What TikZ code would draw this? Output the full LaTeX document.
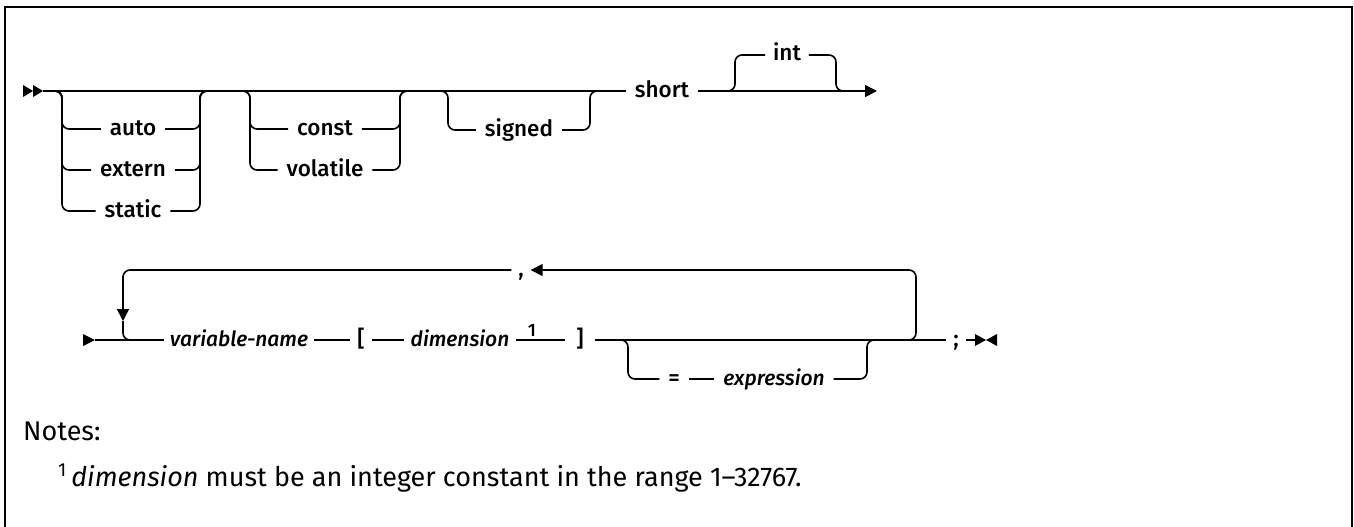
\documentclass[tikz,border=0pt]{standalone}
\usepackage{fontspec}
\setmainfont{Fira Sans}[Numbers=Lining]
\newfontfamily\labfont{Fira Sans Medium}[Numbers=Lining]
\usetikzlibrary{arrows.meta}
\begin{document}
\begin{tikzpicture}[x=1pt,y=-1pt,
  ln/.style={line width=1.6pt},
  rr/.style={line width=1.6pt, rounded corners=7pt},
  tip/.style={-{Triangle[length=12pt,width=12pt]}},
  lab/.style={font=\labfont\fontsize{22.5}{26}\selectfont, inner xsep=9pt, inner ysep=0pt,
    text height=16pt, text depth=4pt, outer sep=0pt, anchor=center},
  ilab/.style={lab, font=\labfont\itshape\fontsize{21}{25}\selectfont},
  sym/.style={lab, inner xsep=7pt},
  supnum/.style={font=\labfont\fontsize{18}{20}\selectfont, inner sep=0pt, anchor=base},
  blob/.style={fill=black, draw=none},
  note/.style={font=\fontsize{27}{32}\selectfont, inner sep=0pt, anchor=base west}
]
\useasboundingbox (0,0) rectangle (1354,527);
% frame
\draw[line width=2pt] (5,527) -- (5,7) -- (1352,7) -- (1352,527);

% ---------- row 1 ----------
\coordinate (s1) at (43,91);
\coordinate (e1) at (877,91);
\fill[blob] (23,85) -- (33,91) -- (23,97) -- cycle;
\fill[blob] (33,85) -- (43,91) -- (33,97) -- cycle;

\node[lab] (auto)   at (133,129) {auto};
\node[lab] (extern) at (133,170) {extern};
\node[lab] (static) at (133,211) {static};
\node[lab] (const)  at (325,129) {const};
\node[lab] (volat)  at (325,170) {volatile};
\node[lab] (signed) at (519,130) {signed};
\node[lab] (short)  at (662,91)  {short};
\node[lab, inner xsep=8pt] (int) at (787,55) {int};

\draw[ln] (s1) -- (short.west);
\draw[ln,tip] (short.east) -- (e1);

% group 1
\foreach \n in {auto,extern,static}{
  \draw[rr] (48,91) -| (62,0 |- \n.west) -- (\n.west);
  \draw[rr] (\n.east) -| (200,91) -- (214,91);
}
% group 2
\foreach \n in {const,volat}{
  \draw[rr] (236,91) -| (250,0 |- \n.west) -- (\n.west);
  \draw[rr] (\n.east) -| (400,91) -- (414,91);
}
% group 3
\draw[rr] (434,91) -| (448,130) -- (signed.west);
\draw[rr] (signed.east) -| (590,91) -- (604,91);
% int
\draw[rr] (721,91) -| (735,55) -- (int.west);
\draw[rr] (int.east) -| (836,91) -- (850,91);

% ---------- row 2 ----------
\coordinate (s2) at (95,340);
\coordinate (e2) at (975,340);
\fill[blob] (83,334) -- (95,340) -- (83,346) -- cycle;
\fill[blob] (975,334) -- (986,340) -- (975,346) -- cycle;
\fill[blob] (997,334) -- (986,340) -- (997,346) -- cycle;

\node[ilab, inner xsep=6pt] (vn)  at (239,340) {variable-name};
\node[sym] (lb)   at (361,340) {[};
\node[ilab, inner xsep=7pt] (dim) at (460,340) {dimension};
\node[supnum] (one) at (532,336) {1};
\node[sym, inner xsep=11pt] (rb)   at (580,340) {]};
\node[sym, inner xsep=9pt] (eq)   at (674,379) {=};
\node[ilab, inner xsep=9pt] (expr) at (774,379) {expression};
\node[sym, inner xsep=7pt] (semi) at (956,340) {;};
\node[sym, inner xsep=7pt] (comma) at (521,270) {,};

\draw[ln] (s2) -- (vn.west);
\draw[ln] (vn.east) -- (lb.west);
\draw[ln] (lb.east) -- (dim.west);
\draw[ln] (dim.east) -- (rb.west);
\draw[ln] (rb.east) -- (semi.west);
\draw[ln] (semi.east) -- (e2);

% optional = expression
\draw[rr] (614,340) -| (628,379) -- (eq.west);
\draw[ln] (eq.east) -- (expr.west);
\draw[rr] (expr.east) -| (867,340) -- (881,340);

% repeat loop
\draw[rr,tip] (902,340) -| (916,270) -- (comma.east);
\coordinate (ld) at (123,308);
\coordinate (lt) at (123,321);
\draw[rr] (comma.west) -| (ld);
\draw[ln,tip] (ld) -- (lt);
\draw[rr] (lt) |- (140,340);

% ---------- notes ----------
\node[note] (notes) at (23,440) {Notes:};
\node[note] (fn) at (58,486) {\textsuperscript{1}\,\textit{dimension} must be an integer constant in the range 1–32767.};
\end{tikzpicture}
\end{document}
